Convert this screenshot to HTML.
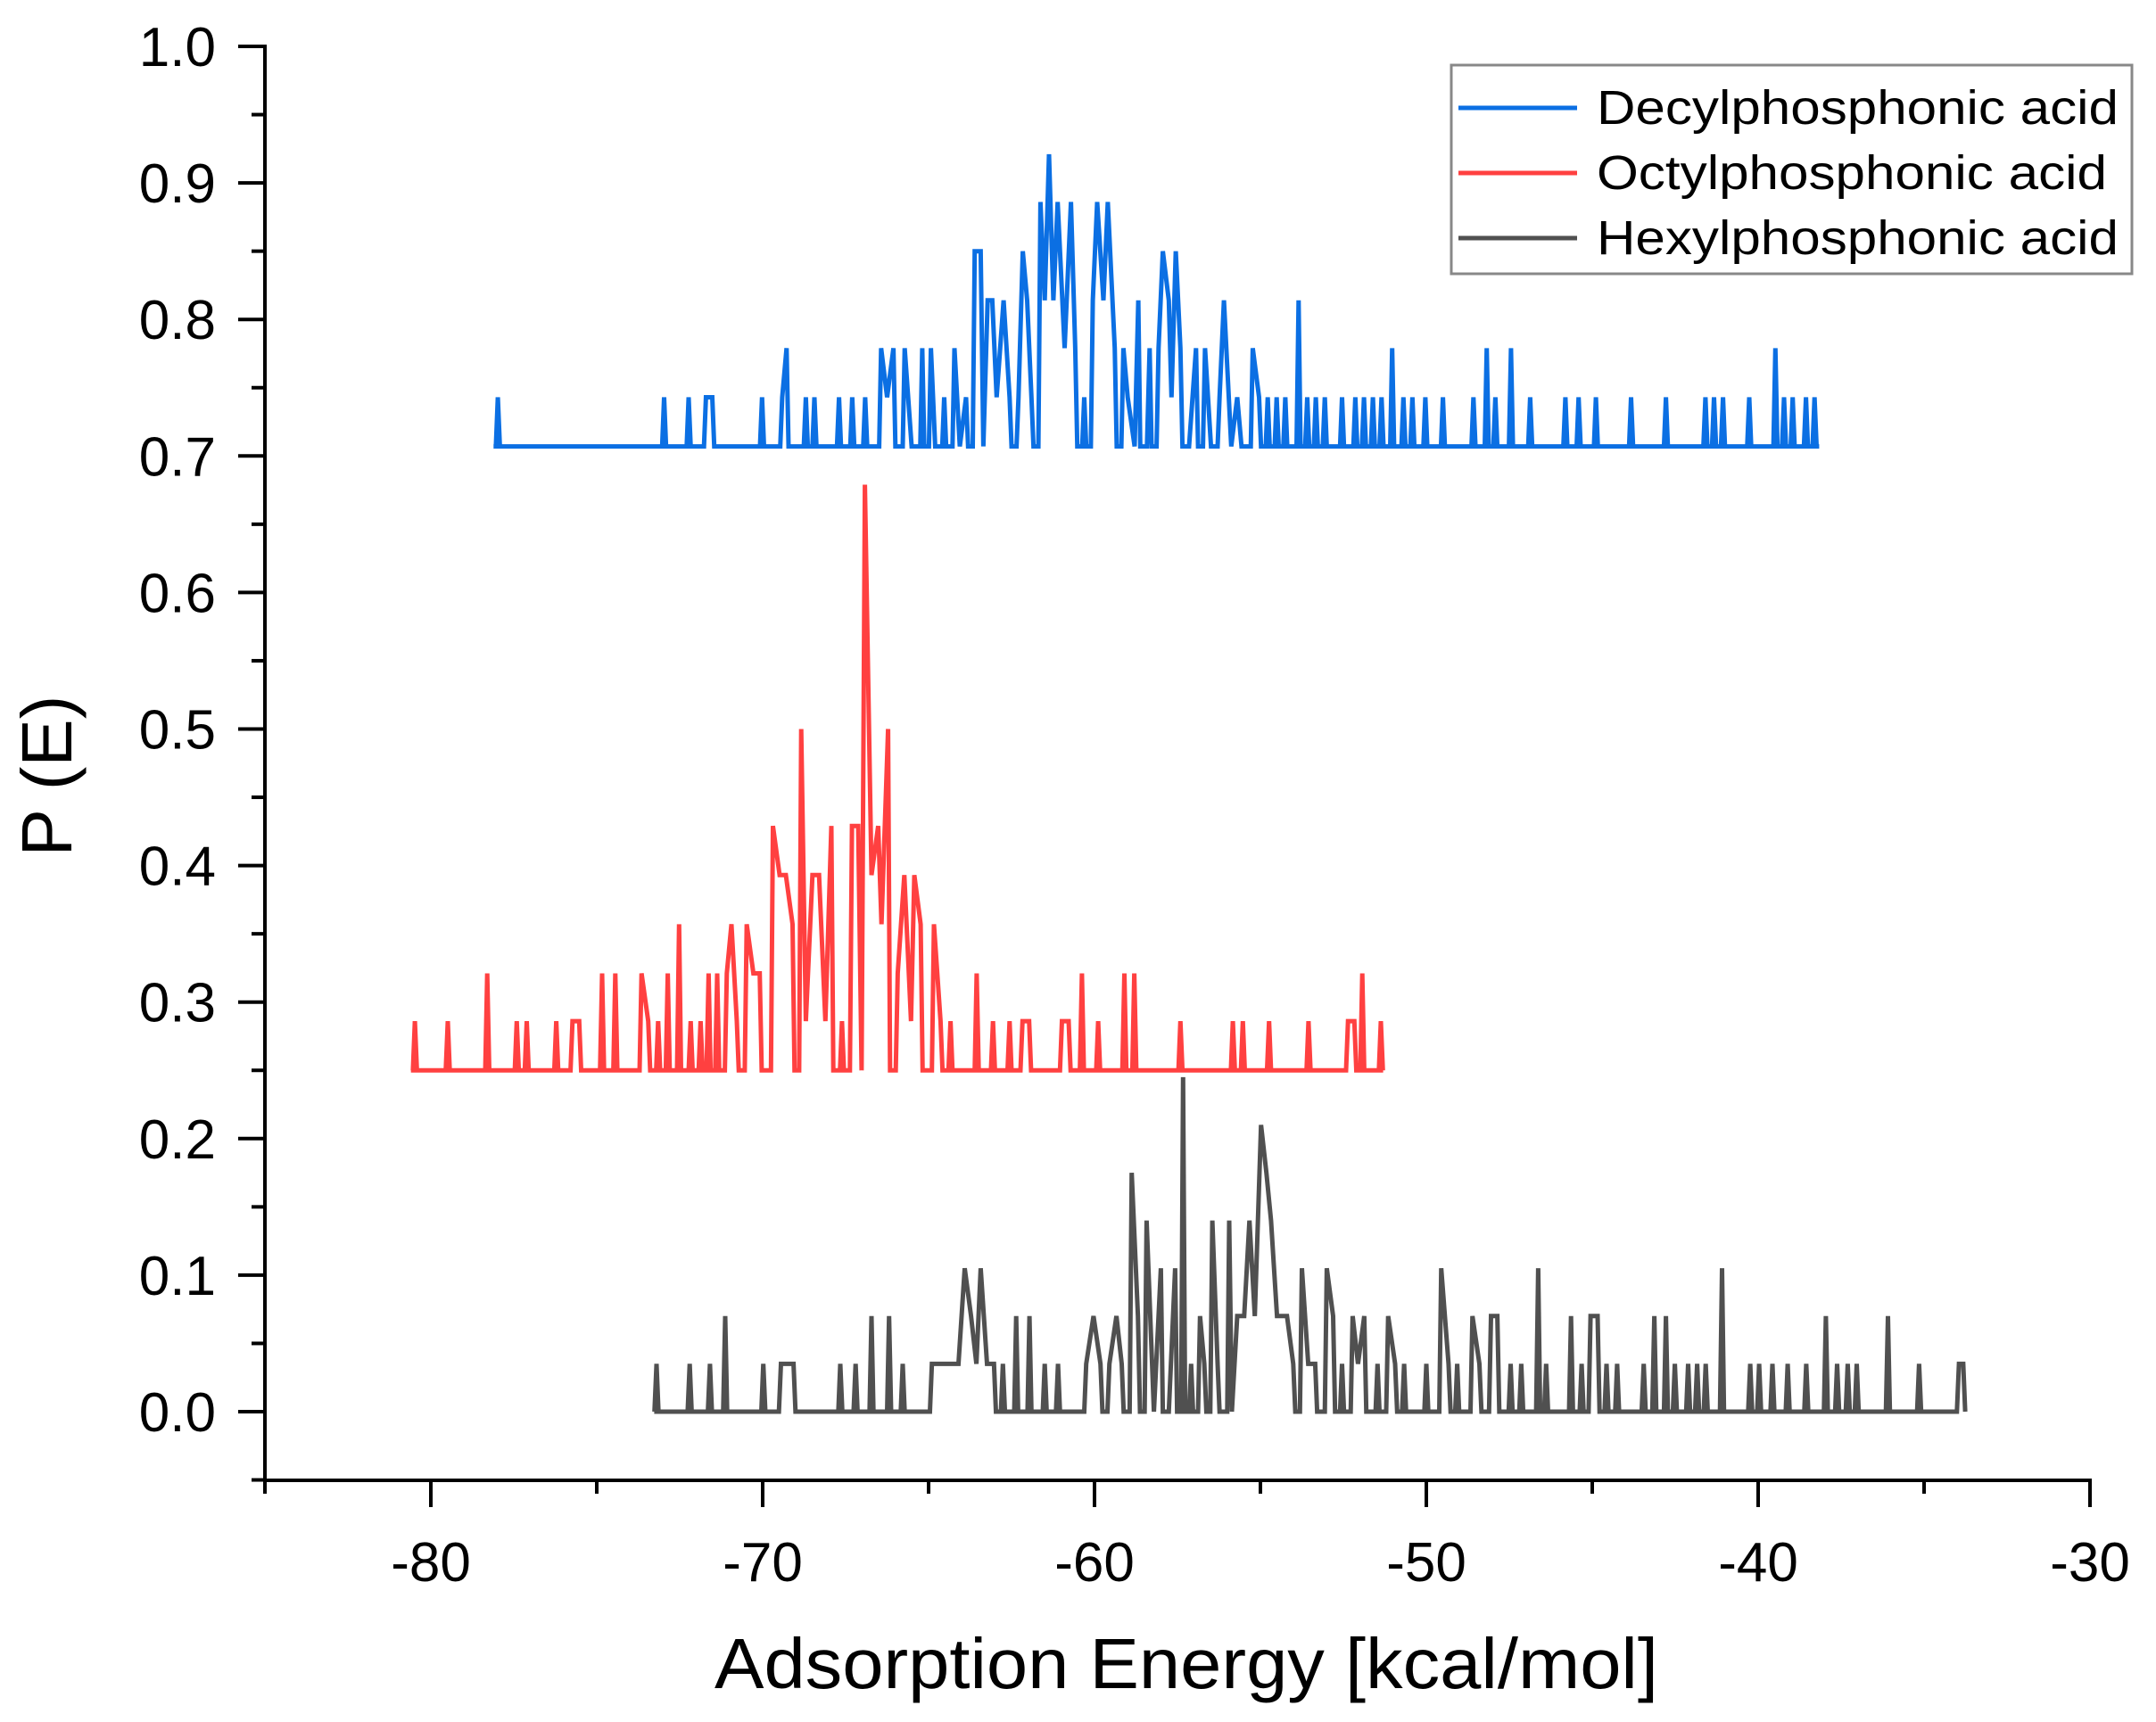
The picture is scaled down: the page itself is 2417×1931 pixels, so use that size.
<!DOCTYPE html>
<html><head><meta charset="utf-8"><style>
html,body{margin:0;padding:0;background:#fff}
svg{display:block;font-family:"Liberation Sans",Arial,sans-serif}
</style></head><body>
<svg id="chart" width="2417" height="1931" viewBox="0 0 2417 1931" xmlns="http://www.w3.org/2000/svg">
<g id="axes"></g>
<g id="series"></g>
<text x="0" y="0" transform="translate(80,870) rotate(-90)" text-anchor="middle" font-size="80" fill="#000">P (E)</text>
<text x="1330" y="1893" text-anchor="middle" font-size="80" textLength="1058" lengthAdjust="spacingAndGlyphs" fill="#000">Adsorption Energy [kcal/mol]</text>
<g>
<rect x="1627" y="73" width="763" height="234" fill="#fff" stroke="#888" stroke-width="3"/>
<line x1="1635" y1="121" x2="1768" y2="121" stroke="#0b6fe3" stroke-width="5"/>
<text x="1790" y="139" font-size="54" textLength="585" lengthAdjust="spacingAndGlyphs">Decylphosphonic acid</text>
<line x1="1635" y1="194" x2="1768" y2="194" stroke="#ff4040" stroke-width="5"/>
<text x="1790" y="212" font-size="54" textLength="572" lengthAdjust="spacingAndGlyphs">Octylphosphonic acid</text>
<line x1="1635" y1="267" x2="1768" y2="267" stroke="#505050" stroke-width="5"/>
<text x="1790" y="285" font-size="54" textLength="585" lengthAdjust="spacingAndGlyphs">Hexylphosphonic acid</text>
</g>
</svg>
<script>
const xTicks = [-80, -70, -60, -50, -40, -30];
const yTicks = [0.0, 0.1, 0.2, 0.3, 0.4, 0.5, 0.6, 0.7, 0.8, 0.9, 1.0];
const yTickLabels = ["0.0","0.1","0.2","0.3","0.4","0.5","0.6","0.7","0.8","0.9","1.0"];

// Decylphosphonic acid (baseline 0.707)
const decylRange = [-78.11, -38.16];
const decylBase = 0.707;
const decylE = [-77.98,-72.97,-72.23,-71.71,-71.52,-70.02,-69.41,-69.28,-68.70,-68.44,-67.70,-67.30,-66.91,-66.43,-66.25,-66.06,-65.72,-65.51,-65.19,-64.93,-64.80,-64.53,-64.22,-64.06,-63.87,-63.61,-63.43,-63.35,-63.22,-63.08,-62.95,-62.74,-62.56,-62.29,-62.16,-62.03,-61.90,-61.63,-61.50,-61.37,-61.24,-61.11,-60.90,-60.71,-60.58,-60.31,-60.05,-59.92,-59.73,-59.60,-59.39,-59.13,-59.00,-58.79,-58.68,-58.42,-58.34,-58.07,-57.94,-57.76,-57.68,-57.55,-57.41,-57.15,-56.94,-56.67,-56.49,-56.23,-56.10,-55.88,-55.70,-55.57,-55.23,-55.04,-54.78,-54.51,-54.25,-53.85,-53.59,-53.33,-53.06,-52.54,-52.14,-51.88,-51.61,-51.35,-51.03,-50.69,-50.42,-50.03,-49.50,-48.58,-48.18,-47.92,-47.45,-46.87,-45.81,-45.41,-44.89,-43.83,-42.78,-41.59,-41.33,-41.06,-40.27,-39.48,-39.22,-38.96,-38.56,-38.30];
const decylP = [0.743,0.743,0.743,0.743,0.743,0.743,0.743,0.779,0.743,0.743,0.743,0.743,0.743,0.779,0.743,0.779,0.779,0.707,0.779,0.779,0.707,0.743,0.779,0.707,0.743,0.850,0.850,0.707,0.814,0.814,0.743,0.814,0.743,0.743,0.850,0.814,0.743,0.886,0.814,0.921,0.814,0.886,0.779,0.886,0.779,0.743,0.814,0.886,0.814,0.886,0.779,0.779,0.743,0.707,0.814,0.707,0.779,0.779,0.850,0.814,0.743,0.850,0.779,0.707,0.779,0.779,0.707,0.743,0.814,0.707,0.743,0.707,0.779,0.743,0.743,0.743,0.743,0.814,0.743,0.743,0.743,0.743,0.743,0.743,0.743,0.743,0.779,0.743,0.743,0.743,0.743,0.743,0.779,0.743,0.779,0.743,0.743,0.743,0.743,0.743,0.743,0.743,0.743,0.743,0.743,0.779,0.743,0.743,0.743,0.743];

// Octylphosphonic acid (baseline 0.25)
const octylRange = [-80.6, -51.3];
const octylBase = 0.25;
const octylE = [-80.48,-79.49,-78.30,-77.41,-77.11,-76.22,-75.73,-75.53,-74.84,-74.44,-73.65,-73.45,-73.15,-72.86,-72.52,-72.17,-71.87,-71.63,-71.37,-71.08,-70.94,-70.78,-70.48,-70.28,-70.09,-69.69,-69.49,-69.30,-69.10,-68.84,-68.70,-68.50,-68.30,-68.11,-67.93,-67.61,-67.31,-67.12,-67.02,-66.92,-66.72,-66.52,-66.42,-66.22,-65.93,-65.73,-65.53,-65.43,-65.24,-64.84,-64.64,-64.34,-63.55,-63.06,-62.56,-62.17,-61.97,-60.98,-60.78,-60.38,-59.89,-59.10,-58.80,-57.41,-55.83,-55.53,-54.74,-53.55,-52.36,-52.17,-51.93,-51.37];
const octylP = [0.286,0.286,0.321,0.286,0.286,0.286,0.286,0.286,0.321,0.321,0.321,0.286,0.286,0.321,0.357,0.286,0.286,0.321,0.321,0.321,0.357,0.286,0.357,0.321,0.321,0.429,0.393,0.393,0.357,0.500,0.286,0.393,0.393,0.286,0.429,0.286,0.429,0.429,0.250,0.679,0.393,0.429,0.357,0.500,0.321,0.393,0.286,0.393,0.357,0.357,0.286,0.286,0.321,0.286,0.286,0.286,0.286,0.286,0.286,0.321,0.286,0.321,0.321,0.286,0.286,0.286,0.286,0.286,0.286,0.286,0.321,0.286];

// Hexylphosphonic acid (baseline 0.0)
const hexylRange = [-73.27, -33.76];
const hexylBase = 0.0;
const hexylE = [-73.20,-72.20,-71.59,-71.13,-69.98,-69.45,-69.26,-69.07,-67.66,-67.20,-66.72,-66.19,-65.78,-64.90,-64.71,-64.53,-64.31,-64.10,-63.91,-63.72,-63.56,-63.43,-63.24,-63.03,-62.76,-62.36,-61.96,-61.50,-61.10,-60.25,-60.03,-59.82,-59.55,-59.34,-59.18,-58.88,-58.69,-58.43,-58.21,-58.00,-57.76,-57.57,-57.33,-57.09,-56.82,-56.69,-56.45,-56.29,-55.94,-55.86,-55.70,-55.49,-55.33,-55.17,-54.98,-54.82,-54.68,-54.50,-54.36,-54.20,-54.01,-53.75,-53.56,-53.35,-53.00,-52.81,-52.54,-52.22,-52.06,-51.87,-51.47,-51.15,-50.94,-50.67,-50.00,-49.55,-49.33,-49.07,-48.61,-48.40,-48.05,-47.86,-47.46,-47.14,-46.63,-46.39,-45.64,-45.32,-45.05,-44.84,-44.57,-44.25,-43.45,-43.13,-42.78,-42.51,-42.11,-41.84,-41.58,-41.09,-40.24,-39.97,-39.57,-39.11,-38.55,-37.96,-37.62,-37.30,-37.03,-36.09,-35.15,-33.95,-33.82];
const hexylP = [0.035,0.035,0.035,0.070,0.035,0.035,0.035,0.035,0.035,0.035,0.070,0.070,0.035,0.035,0.035,0.035,0.035,0.035,0.105,0.070,0.035,0.105,0.035,0.035,0.035,0.070,0.070,0.035,0.035,0.035,0.070,0.035,0.035,0.070,0.035,0.175,0.070,0.140,0.000,0.105,0.000,0.105,0.245,0.035,0.070,0.035,0.140,0.035,0.140,0.000,0.070,0.070,0.140,0.070,0.210,0.175,0.140,0.070,0.070,0.070,0.035,0.105,0.035,0.035,0.105,0.070,0.035,0.070,0.035,0.070,0.035,0.070,0.035,0.035,0.035,0.105,0.035,0.035,0.070,0.035,0.070,0.070,0.035,0.035,0.105,0.035,0.070,0.035,0.070,0.070,0.035,0.035,0.035,0.070,0.070,0.035,0.035,0.035,0.035,0.105,0.035,0.035,0.035,0.035,0.035,0.070,0.035,0.035,0.035,0.070,0.035,0.035,0.035];

const NS = "http://www.w3.org/2000/svg";
const X0 = 297, X1 = 2343, XMIN = -85, XMAX = -30;
const Y0 = 1583, YPER = 1531;
function xs(e){ return X0 + (e - XMIN) / (XMAX - XMIN) * (X1 - X0); }
function ys(p){ return Y0 - p * YPER; }

const axes = document.getElementById('axes');
function mk(tag, attrs, parent){ const el = document.createElementNS(NS, tag); for (const k in attrs) el.setAttribute(k, attrs[k]); parent.appendChild(el); return el; }

const yAxis = mk('line', {x1: X0, y1: ys(1.0)-2, x2: X0, y2: 1662, stroke: '#000', 'stroke-width': 4}, axes);


const xAxis = mk('line', {x1: X0-2, y1: 1660, x2: X1+2, y2: 1660, stroke: '#000', 'stroke-width': 4}, axes);



yTicks.forEach((v, i) => {
  const t = mk('line', {x1: X0-30, y1: ys(v), x2: X0, y2: ys(v), stroke: '#000', 'stroke-width': 4}, axes);
  
  
  const m = mk('line', {x1: X0-15, y1: ys(v-0.05), x2: X0, y2: ys(v-0.05), stroke: '#000', 'stroke-width': 4}, axes);
  
  
  const l = mk('text', {x: 242, y: ys(v)+22, 'text-anchor': 'end', 'font-size': 62, fill: '#000'}, axes);
  l.textContent = yTickLabels[i];
  
  
});
for (let v = XMIN; v <= XMAX; v += 5) {
  const major = xTicks.indexOf(v) >= 0;
  const t = mk('line', {x1: xs(v), y1: 1660, x2: xs(v), y2: major ? 1690 : 1675, stroke: '#000', 'stroke-width': 4}, axes);
  
  
}
xTicks.forEach(v => {
  const l = mk('text', {x: xs(v), y: 1773, 'text-anchor': 'middle', 'font-size': 62, fill: '#000'}, axes);
  l.textContent = String(v);
  
  
});

const seriesG = document.getElementById('series');
function buildPath(range, base, E, P){
  const h = 0.06, pts = [[range[0], base]];
  for (let i = 0; i < E.length; i++) {
    const prevClose = i > 0 && E[i] - E[i-1] < 0.22;
    const nextClose = i < E.length-1 && E[i+1] - E[i] < 0.22;
    if (!prevClose) pts.push([E[i]-h, base]);
    pts.push([E[i], P[i]]);
    if (!nextClose) pts.push([E[i]+h, base]);
  }
  pts.push([range[1], base]);
  return pts.map((p, i) => (i ? 'L' : 'M') + xs(p[0]).toFixed(1) + ' ' + ys(p[1]).toFixed(1)).join(' ');
}
const hx = mk('path', {d: buildPath(hexylRange, hexylBase, hexylE, hexylP), fill: 'none', stroke: '#505050', 'stroke-width': 5, 'stroke-linejoin': 'miter'}, seriesG);


const oc = mk('path', {d: buildPath(octylRange, octylBase, octylE, octylP), fill: 'none', stroke: '#ff4040', 'stroke-width': 5, 'stroke-linejoin': 'miter'}, seriesG);


const dc = mk('path', {d: buildPath(decylRange, decylBase, decylE, decylP), fill: 'none', stroke: '#0b6fe3', 'stroke-width': 5, 'stroke-linejoin': 'miter'}, seriesG);


</script>
</body></html>
